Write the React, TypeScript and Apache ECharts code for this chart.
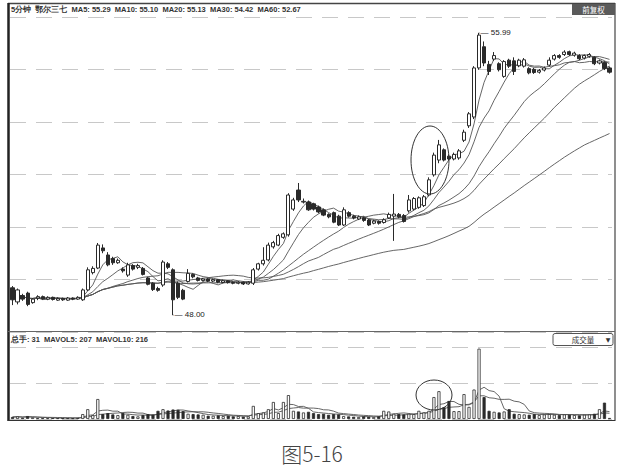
import React, { useEffect, useRef } from 'react';
import * as echarts from 'echarts';

const openP = [
  48.77, 48.37, 48.55, 48.62, 48.35, 48.48, 48.52, 48.45, 48.50, 48.42,
  48.47, 48.42, 48.48, 48.45, 48.43, 48.71, 49.20, 49.33, 49.90, 49.70,
  49.60, 49.48, 49.30, 49.13, 49.40, 49.35, 49.32, 49.05, 48.90, 48.75,
  48.85, 49.45, 49.28, 48.90, 48.70, 48.95, 49.15, 49.05, 48.98, 49.02,
  48.96, 49.00, 48.92, 48.97, 48.92, 48.90, 48.93, 48.88, 48.90, 49.30,
  49.45, 49.56, 49.93, 49.98, 50.20, 50.27, 51.00, 51.54, 51.20, 51.20,
  51.15, 51.06, 50.98, 50.85, 50.90, 50.80, 50.55, 50.90, 50.80, 50.72,
  50.75, 50.69, 50.60, 50.65, 50.62, 50.75, 50.80, 50.85, 50.82, 50.95,
  51.00, 51.05, 51.10, 51.40, 51.97, 52.39, 52.68, 52.50, 52.42, 52.45,
  52.95, 53.36, 53.61, 55.00, 55.60, 55.10, 55.25, 55.12, 54.76, 55.22,
  55.20, 55.06, 55.05, 54.98, 54.96, 54.88, 54.94, 55.08, 55.25, 55.35,
  55.38, 55.46, 55.36, 55.35, 55.28, 55.33, 55.30, 55.14, 55.15, 55.00,
];
const closeP = [
  48.43, 48.71, 48.45, 48.30, 48.45, 48.52, 48.46, 48.50, 48.44, 48.47,
  48.43, 48.48, 48.45, 48.50, 48.71, 49.28, 49.32, 49.98, 49.82, 49.42,
  49.48, 49.55, 49.25, 49.42, 49.30, 49.40, 49.15, 48.87, 48.72, 48.70,
  49.50, 49.35, 48.43, 48.50, 48.45, 49.18, 49.08, 48.98, 49.02, 48.96,
  49.00, 48.93, 48.97, 48.92, 48.90, 48.93, 48.88, 48.93, 49.28, 49.45,
  49.55, 49.98, 50.05, 50.25, 50.30, 51.40, 51.26, 51.26, 51.22, 50.98,
  51.00, 50.92, 50.83, 50.78, 50.63, 50.55, 50.98, 50.80, 50.75, 50.78,
  50.68, 50.55, 50.66, 50.60, 50.70, 50.85, 50.86, 50.78, 50.65, 51.26,
  51.30, 51.32, 51.35, 51.83, 52.53, 52.82, 52.39, 52.42, 52.55, 52.65,
  53.18, 53.70, 55.00, 55.93, 55.14, 54.90, 55.35, 54.95, 55.18, 55.05,
  54.90, 55.22, 55.23, 54.86, 54.87, 54.93, 55.00, 55.22, 55.35, 55.30,
  55.45, 55.38, 55.42, 55.26, 55.35, 55.38, 55.12, 55.20, 54.98, 54.88,
];
const lowP = [
  48.28, 48.30, 48.40, 48.25, 48.32, 48.42, 48.43, 48.42, 48.41, 48.40,
  48.40, 48.40, 48.42, 48.43, 48.40, 48.68, 49.15, 49.30, 49.75, 49.38,
  49.42, 49.45, 49.20, 49.08, 49.26, 49.30, 49.12, 48.84, 48.68, 48.66,
  48.80, 49.30, 48.00, 48.45, 48.42, 48.92, 49.04, 48.95, 48.95, 48.93,
  48.93, 48.90, 48.90, 48.89, 48.87, 48.87, 48.85, 48.86, 48.85, 49.26,
  49.40, 49.52, 49.88, 49.95, 50.16, 50.22, 50.95, 51.20, 51.16, 50.95,
  50.96, 50.88, 50.80, 50.74, 50.60, 50.52, 50.52, 50.76, 50.71, 50.69,
  50.64, 50.52, 50.57, 50.56, 50.59, 50.72, 50.10, 50.74, 50.62, 50.90,
  50.96, 51.01, 51.06, 51.36, 51.92, 52.30, 52.35, 52.38, 52.38, 52.40,
  52.90, 53.30, 53.55, 54.95, 55.05, 54.80, 55.20, 54.90, 54.72, 55.00,
  54.80, 55.02, 55.01, 54.82, 54.83, 54.84, 54.90, 55.04, 55.21, 55.26,
  55.34, 55.34, 55.32, 55.22, 55.24, 55.29, 55.08, 55.10, 54.94, 54.84,
];
const highP = [
  48.82, 48.75, 48.60, 48.66, 48.48, 48.56, 48.55, 48.53, 48.52, 48.50,
  48.49, 48.51, 48.50, 48.53, 48.75, 49.35, 49.38, 50.04, 50.00, 49.78,
  49.65, 49.60, 49.35, 49.48, 49.44, 49.45, 49.36, 49.08, 48.93, 48.80,
  49.55, 49.50, 49.32, 48.95, 48.74, 49.30, 49.18, 49.08, 49.05, 49.04,
  49.03, 49.02, 49.00, 48.99, 48.95, 48.96, 48.95, 48.96, 49.33, 49.48,
  49.92, 50.05, 50.10, 50.30, 50.34, 51.45, 51.32, 51.74, 51.30, 51.24,
  51.18, 51.10, 51.02, 50.88, 50.93, 50.84, 51.05, 50.94, 50.84, 50.82,
  50.79, 50.72, 50.70, 50.68, 50.74, 50.90, 51.43, 50.89, 50.86, 51.40,
  51.34, 51.36, 51.40, 51.90, 52.60, 52.96, 52.72, 52.55, 52.60, 52.70,
  53.25, 53.75, 55.05, 55.99, 55.75, 55.20, 55.45, 55.16, 55.22, 55.26,
  55.30, 55.26, 55.28, 55.02, 55.00, 54.97, 55.04, 55.30, 55.39, 55.39,
  55.50, 55.49, 55.46, 55.39, 55.38, 55.42, 55.33, 55.24, 55.19, 55.04,
];
const volumes = [
  60, 80, 40, 90, 50, 30, 30, 25, 30, 25,
  30, 30, 25, 35, 150, 300, 120, 610, 150, 180,
  140, 120, 180, 130, 90, 80, 120, 150, 130, 250,
  300, 260, 290, 280, 240, 160, 150, 140, 130, 100,
  100, 110, 90, 100, 80, 90, 70, 80, 400, 180,
  200, 300, 520, 180, 520, 730, 250, 230, 200, 220,
  180, 150, 160, 130, 150, 140, 90, 80, 70, 60,
  80, 70, 60, 80, 250, 230, 160, 150, 140, 160,
  150, 250, 200, 250, 670, 850, 360, 550, 240, 240,
  760, 370, 900, 2150, 670, 250, 220, 200, 230, 300,
  160, 150, 140, 130, 150, 120, 140, 150, 130, 120,
  140, 130, 120, 110, 130, 140, 160, 300, 500, 31,
];
const categories = openP.map((_, i) => `K${i + 1}`);
const headerText = '5分钟  鄂尔三七  MA5: 55.29  MA10: 55.10  MA20: 55.13  MA30: 54.42  MA60: 52.67';
const volHeaderText = '总手: 31  MAVOL5: 207  MAVOL10: 216';
const caption = '图5-16';
const highLabel = '55.99';
const lowLabel = '48.00';

function movingAvg(arr: number[], n: number): number[] {
  return arr.map((_, i) => {
    const s = Math.max(0, i - n + 1);
    let sum = 0;
    for (let j = s; j <= i; j++) sum += arr[j];
    return +(sum / (i - s + 1)).toFixed(3);
  });
}

const INK = '#2a2a2a';

export default function App() {
  const ref = useRef<HTMLDivElement>(null);
  useEffect(() => {
    if (!ref.current) return;
    const chart = echarts.init(ref.current, undefined, { renderer: 'svg' });
    const candles = openP.map((o, i) => [o, closeP[i], lowP[i], highP[i]]);
    const volData = volumes.map((v, i) => {
      const up = closeP[i] >= openP[i];
      return {
        value: v,
        itemStyle: { color: up ? '#fff' : INK, borderColor: INK, borderWidth: 0.8 },
      };
    });
    const maLine = (name: string, data: number[], xi: number, yi: number) => ({
      name,
      type: 'line',
      xAxisIndex: xi,
      yAxisIndex: yi,
      data,
      showSymbol: false,
      symbol: 'none',
      lineStyle: { color: '#555', width: 0.9 },
      silent: true,
      z: 1,
    });
    const hiddenAxisBase = {
      axisLine: { show: false },
      axisTick: { show: false },
      axisLabel: { show: false },
    };
    const option: any = {
      animation: false,
      backgroundColor: '#fff',
      grid: [
        { left: 10, right: 8, top: 17, height: 315 },
        { left: 10, right: 8, top: 347, height: 72 },
      ],
      xAxis: [
        { type: 'category', data: categories, gridIndex: 0, show: false, boundaryGap: true },
        { type: 'category', data: categories, gridIndex: 1, show: false, boundaryGap: true },
      ],
      yAxis: [
        { gridIndex: 0, min: 47.518, max: 56.443, ...hiddenAxisBase, splitLine: { show: false } },
        { gridIndex: 1, min: 0, max: 2200, ...hiddenAxisBase, splitLine: { show: false } },
        {
          gridIndex: 0, min: 0, max: 6, interval: 1, ...hiddenAxisBase,
          splitLine: { show: true, lineStyle: { color: '#c8c8c8', type: [16, 10], width: 1 } },
        },
        {
          gridIndex: 1, min: 0, max: 2, interval: 1, ...hiddenAxisBase,
          splitLine: { show: true, lineStyle: { color: '#c8c8c8', type: [16, 10], width: 1 } },
        },
      ],
      series: [
        {
          type: 'candlestick',
          xAxisIndex: 0,
          yAxisIndex: 0,
          data: candles,
          barWidth: '72%',
          z: 3,
          itemStyle: {
            color: '#fff', color0: INK, borderColor: INK, borderColor0: INK, borderWidth: 1,
          },
          markPoint: {
            symbol: 'circle',
            symbolSize: 1,
            itemStyle: { color: INK },
            label: { show: true, position: 'right', distance: 1, fontSize: 8, color: '#222', fontFamily: 'Liberation Sans' },
            data: [
              { coord: [categories[93], 55.99], label: { formatter: '— ' + highLabel } },
              { coord: [categories[32], 48.0], label: { formatter: '— ' + lowLabel } },
            ],
          },
        },
        maLine('MA5', movingAvg(closeP, 5), 0, 0),
        maLine('MA10', movingAvg(closeP, 10), 0, 0),
        maLine('MA20', movingAvg(closeP, 20), 0, 0),
        maLine('MA30', movingAvg(closeP, 30), 0, 0),
        maLine('MA60', movingAvg(closeP, 60), 0, 0),
        {
          type: 'bar',
          xAxisIndex: 1,
          yAxisIndex: 1,
          data: volData,
          barWidth: '62%',
          z: 3,
        },
        maLine('MAVOL5', movingAvg(volumes, 5), 1, 1),
        maLine('MAVOL10', movingAvg(volumes, 10), 1, 1),
      ],
      graphic: [
        { type: 'line', shape: { x1: 8, y1: 3.5, x2: 615, y2: 3.5 }, style: { stroke: '#444', lineWidth: 1.5 }, z: 10 },
        { type: 'line', shape: { x1: 8.5, y1: 3, x2: 8.5, y2: 421 }, style: { stroke: '#222', lineWidth: 2.5 }, z: 10 },
        { type: 'line', shape: { x1: 615, y1: 3, x2: 615, y2: 421 }, style: { stroke: '#444', lineWidth: 1.2 }, z: 10 },
        { type: 'line', shape: { x1: 8, y1: 420.5, x2: 615, y2: 420.5 }, style: { stroke: '#333', lineWidth: 1.2 }, z: 10 },
        { type: 'line', shape: { x1: 8, y1: 331.5, x2: 615, y2: 331.5 }, style: { stroke: '#666', lineWidth: 1 }, z: 10 },
        {
          type: 'text', left: 11, top: 5, z: 10,
          style: { text: headerText, fontSize: 7.5, fontWeight: 'bold', fill: '#333', fontFamily: 'Liberation Sans' },
        },
        { type: 'rect', shape: { x: 572, y: 4, width: 43, height: 11 }, style: { fill: '#5a5a5a' }, z: 10 },
        {
          type: 'text', x: 593.5, y: 9.5, z: 11,
          style: { text: '前复权', fontSize: 7.5, fill: '#fff', align: 'center', verticalAlign: 'middle', fontFamily: 'Noto Sans CJK SC' },
        },
        {
          type: 'text', left: 11, top: 335, z: 10,
          style: { text: volHeaderText, fontSize: 7.5, fontWeight: 'bold', fill: '#333', fontFamily: 'Liberation Sans' },
        },
        { type: 'rect', shape: { x: 553, y: 333.5, width: 60, height: 12, r: 2 }, style: { fill: '#fff', stroke: '#555', lineWidth: 1 }, z: 10 },
        {
          type: 'text', x: 583, y: 339.5, z: 11,
          style: { text: '成交量', fontSize: 7.5, fill: '#333', align: 'center', verticalAlign: 'middle', fontFamily: 'Noto Sans CJK SC' },
        },
        {
          type: 'text', x: 608, y: 339.5, z: 11,
          style: { text: '▼', fontSize: 6, fill: '#333', align: 'center', verticalAlign: 'middle', fontFamily: 'DejaVu Sans' },
        },
        { type: 'ellipse', shape: { cx: 430, cy: 160, rx: 19, ry: 34 }, style: { fill: 'none', stroke: '#333', lineWidth: 1 }, z: 12 },
        { type: 'ellipse', shape: { cx: 434, cy: 395, rx: 18, ry: 15 }, style: { fill: 'none', stroke: '#333', lineWidth: 1 }, z: 12 },
        {
          type: 'text', x: 312, y: 453, z: 10,
          style: { text: caption, fontSize: 21, fill: '#444', align: 'center', verticalAlign: 'middle', fontFamily: 'Noto Sans CJK SC', fontWeight: 300 },
        },
      ],
    };
    chart.setOption(option);
    return () => chart.dispose();
  }, []);
  return <div ref={ref} style={{ position: 'absolute', left: 0, top: 0, width: 620, height: 471, background: '#fff' }} />;
}
